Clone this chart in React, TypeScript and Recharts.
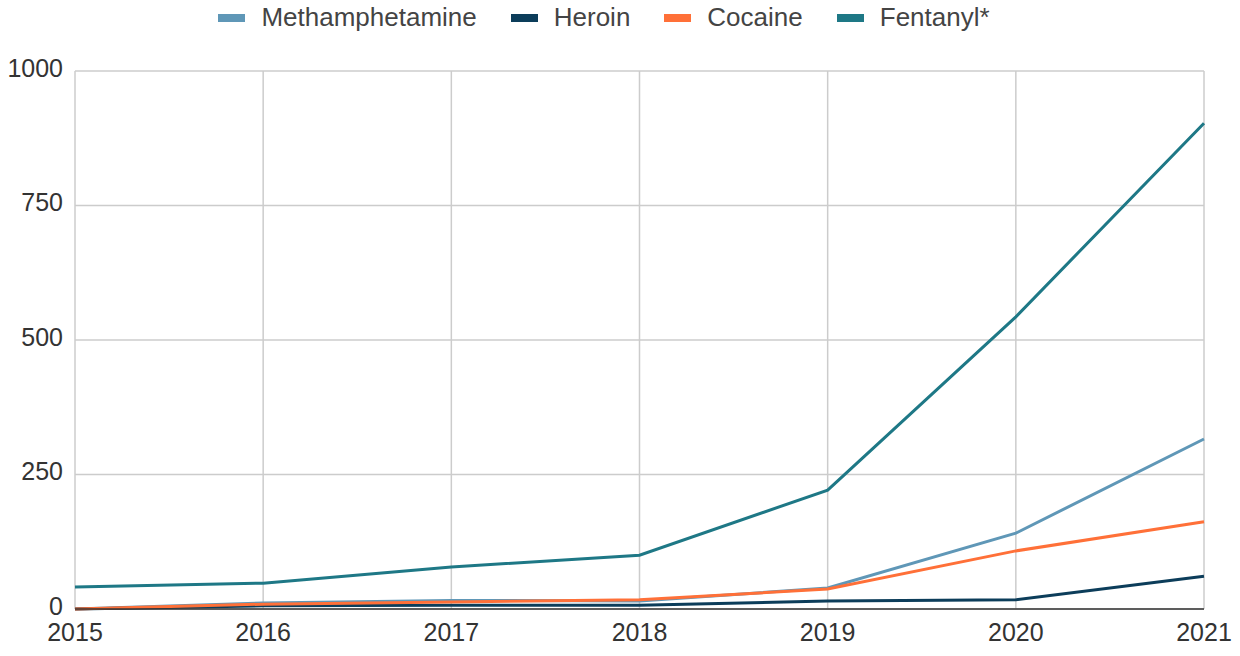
import { LineChart, Line, XAxis, YAxis, CartesianGrid } from 'recharts';

const years = ['2015', '2016', '2017', '2018', '2019', '2020', '2021'];
const methamphetamine = [0, 11, 16, 15, 39, 141, 316];
const heroin = [0, 6, 7, 7, 15, 17, 61];
const cocaine = [0, 9, 13, 17, 37, 108, 162];
const fentanyl = [41, 48, 78, 100, 221, 543, 903];
const yTicks = [0, 250, 500, 750, 1000];

const series = [
    { key: 'meth', name: 'Methamphetamine', color: '#5f97b7' },
    { key: 'heroin', name: 'Heroin', color: '#0c3d5a' },
    { key: 'cocaine', name: 'Cocaine', color: '#ff7038' },
    { key: 'fentanyl', name: 'Fentanyl*', color: '#1e7886' },
];

const chartData = years.map((year, i) => ({
    year,
    meth: methamphetamine[i],
    heroin: heroin[i],
    cocaine: cocaine[i],
    fentanyl: fentanyl[i],
}));

const FONT = '"Liberation Sans", Arial, sans-serif';

function TopLegend() {
    return (
        <div
            style={{
                position: 'absolute',
                top: 2,
                left: 0,
                width: 1240,
                boxSizing: 'border-box',
                paddingRight: 32,
                display: 'flex',
                justifyContent: 'center',
                alignItems: 'center',
                fontFamily: FONT,
                fontSize: 26,
                color: '#444',
            }}
        >
            {series.map((s) => (
                <div key={s.key} style={{ display: 'flex', alignItems: 'center', margin: '0 17px' }}>
                    <div style={{ width: 27, height: 8, background: s.color, marginRight: 16 }} />
                    <span>{s.name}</span>
                </div>
            ))}
        </div>
    );
}

export default function App() {
    return (
        <div style={{ position: 'absolute', left: 0, top: 0, width: 1240, height: 656, background: '#fff' }}>
            <LineChart
                width={1240}
                height={656}
                data={chartData}
                margin={{ top: 71, right: 36, left: 0, bottom: 7 }}
            >
                <CartesianGrid stroke="#cccccc" strokeWidth={1.5} />
                <XAxis
                    dataKey="year"
                    tickLine={false}
                    tickSize={0}
                    tickMargin={14}
                    height={40}
                    axisLine={{ stroke: '#333', strokeWidth: 1.5 }}
                    tick={{ fill: '#333', fontSize: 25, fontFamily: FONT }}
                    interval={0}
                />
                <YAxis
                    domain={[0, 1000]}
                    ticks={yTicks}
                    width={75}
                    axisLine={false}
                    tickLine={false}
                    tickSize={0}
                    tickMargin={12}
                    tick={{ fill: '#333', fontSize: 25, fontFamily: FONT, dy: -3 }}
                />
                {series.map((s) => (
                    <Line
                        key={s.key}
                        type="linear"
                        dataKey={s.key}
                        name={s.name}
                        stroke={s.color}
                        strokeWidth={3}
                        dot={false}
                        isAnimationActive={false}
                    />
                ))}
            </LineChart>
            <TopLegend />
        </div>
    );
}
